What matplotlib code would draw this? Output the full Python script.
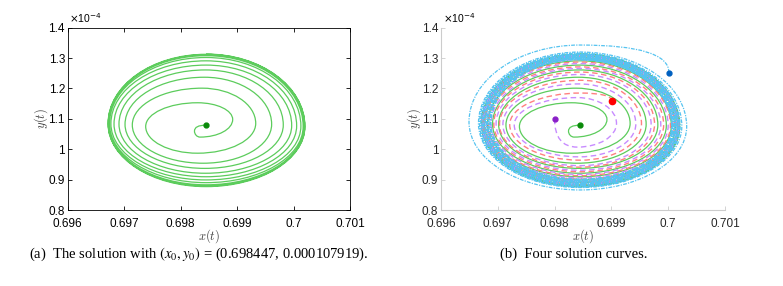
import numpy as np
import matplotlib
matplotlib.use('Agg')
import matplotlib.pyplot as plt
from matplotlib.path import Path
from matplotlib.patches import PathPatch
from matplotlib.ticker import FuncFormatter

# Turning points of each solution curve.
# x in data units, y in units of 1e-4.
# First entry = initial point, then the left/bottom/right/top extremes
# in the order the curve passes them (counter-clockwise, spiralling).
green_first = 'L'
green_x = [0.698447, 0.698245, 0.698345, 0.698922, 0.698300,
           0.697381, 0.698300, 0.699330, 0.698380,
           0.697144, 0.698400, 0.699612, 0.698420,
           0.697015, 0.698430, 0.699818, 0.698440,
           0.696908, 0.698440, 0.699967, 0.698450,
           0.696820, 0.698450, 0.700055, 0.698450,
           0.696765, 0.698450, 0.700130, 0.698450,
           0.696740, 0.698450, 0.700170, 0.698450,
           0.696725, 0.698450, 0.700190, 0.698450,
           0.696718, 0.698450, 0.700198, 0.698450,
           0.696714, 0.698450, 0.700202, 0.698450]
green_y = [1.07919, 1.060, 1.040, 1.098, 1.153,
           1.075, 0.987, 1.085, 1.201,
           1.080, 0.954, 1.082, 1.237,
           1.082, 0.937, 1.080, 1.261,
           1.083, 0.921, 1.078, 1.277,
           1.083, 0.9095, 1.077, 1.291,
           1.084, 0.899, 1.076, 1.302,
           1.084, 0.890, 1.075, 1.308,
           1.084, 0.883, 1.075, 1.311,
           1.084, 0.879, 1.075, 1.3125,
           1.084, 0.877, 1.075, 1.3134]

purple_first = 'B'
purple_x = [0.698000, 0.698400, 0.699090, 0.698400,
            0.697290, 0.698430, 0.699430, 0.698430,
            0.697090, 0.698440, 0.699700, 0.698440,
            0.696970, 0.698440, 0.699870, 0.698450,
            0.696880, 0.698450, 0.700000, 0.698450,
            0.696800, 0.698450, 0.700080, 0.698450,
            0.696750, 0.698450, 0.700140, 0.698450,
            0.696730, 0.698450, 0.700170, 0.698450,
            0.696722, 0.698450, 0.700190, 0.698450]
purple_y = [1.1005, 1.007, 1.085, 1.170,
            1.080, 0.975, 1.083, 1.215,
            1.082, 0.946, 1.081, 1.246,
            1.083, 0.931, 1.079, 1.266,
            1.083, 0.917, 1.078, 1.282,
            1.084, 0.906, 1.077, 1.295,
            1.084, 0.896, 1.076, 1.304,
            1.084, 0.888, 1.075, 1.309,
            1.084, 0.882, 1.075, 1.311]

red_first = 'T'
red_x = [0.699011, 0.698460,
         0.697210, 0.698450, 0.699530, 0.698460,
         0.697030, 0.698450, 0.699760, 0.698450,
         0.696930, 0.698450, 0.699920, 0.698450,
         0.696840, 0.698450, 0.700040, 0.698450,
         0.696770, 0.698450, 0.700110, 0.698450,
         0.696740, 0.698450, 0.700160, 0.698450,
         0.696720, 0.698450, 0.700180, 0.698450]
red_y = [1.1577, 1.185,
         1.081, 0.964, 1.084, 1.227,
         1.082, 0.941, 1.082, 1.254,
         1.083, 0.926, 1.080, 1.271,
         1.083, 0.913, 1.078, 1.287,
         1.084, 0.902, 1.077, 1.298,
         1.084, 0.893, 1.076, 1.306,
         1.084, 0.885, 1.075, 1.310]

blue_first = 'T'
blue_x = [0.700014, 0.698450,
          0.696493, 0.698450, 0.700326, 0.698450,
          0.696660, 0.698450, 0.700240, 0.698450,
          0.696680, 0.698450, 0.700210, 0.698450,
          0.696700, 0.698450, 0.700190, 0.698450,
          0.696720, 0.698450, 0.700170, 0.698450,
          0.696740, 0.698450, 0.700160, 0.698450,
          0.696760, 0.698450, 0.700140, 0.698450,
          0.696780, 0.698450, 0.700130, 0.698450,
          0.696800, 0.698450, 0.700110, 0.698450,
          0.696820, 0.698450, 0.700100, 0.698450,
          0.696840, 0.698450, 0.700080, 0.698450,
          0.696860, 0.698450, 0.700070, 0.698450,
          0.696880, 0.698450, 0.700060, 0.698450]
blue_y = [1.252, 1.343,
          1.090, 0.866, 1.075, 1.320,
          1.085, 0.874, 1.076, 1.316,
          1.085, 0.876, 1.076, 1.313,
          1.085, 0.879, 1.076, 1.311,
          1.085, 0.882, 1.076, 1.309,
          1.085, 0.884, 1.076, 1.307,
          1.085, 0.887, 1.076, 1.305,
          1.085, 0.889, 1.076, 1.303,
          1.085, 0.892, 1.076, 1.301,
          1.085, 0.894, 1.076, 1.299,
          1.085, 0.897, 1.076, 1.297,
          1.085, 0.899, 1.076, 1.295,
          1.085, 0.902, 1.076, 1.294]

x_ticks = [0.696, 0.697, 0.698, 0.699, 0.700, 0.701]
y_ticks = [0.8, 0.9, 1.0, 1.1, 1.2, 1.3, 1.4]

caption_a = '(a)  The solution with $(x_0, y_0)$ = (0.698447, 0.000107919).'
caption_b = '(b)  Four solution curves.'

K = 0.5523
ORDER = 'LBRT'


def spiral_path(xs, ys, first):
    i0 = ORDER.index(first)
    kinds = [ORDER[(i0 + i) % 4] for i in range(len(xs) - 1)]
    verts = [(xs[0], ys[0])]
    codes = [Path.MOVETO]
    # initial point -> first extreme
    if kinds[0] in 'LR':
        ctrl = (xs[1], ys[0])
    else:
        ctrl = (xs[0], ys[1])
    verts += [ctrl, (xs[1], ys[1])]
    codes += [Path.CURVE3, Path.CURVE3]
    for i in range(1, len(xs) - 1):
        x0, y0, x1, y1 = xs[i], ys[i], xs[i + 1], ys[i + 1]
        if kinds[i - 1] in 'LR':
            c1 = (x0, y0 + K * (y1 - y0))
            c2 = (x1 + K * (x0 - x1), y1)
        else:
            c1 = (x0 + K * (x1 - x0), y0)
            c2 = (x1, y1 + K * (y0 - y1))
        verts += [c1, c2, (x1, y1)]
        codes += [Path.CURVE4] * 3
    return Path(verts, codes)


def draw_curve(ax, xs, ys, first, color, ls, lw, dot, ms=3.5):
    ax.add_patch(PathPatch(spiral_path(xs, ys, first), fill=False,
                           edgecolor=color, linestyle=ls, lw=lw))
    ax.plot(xs[0], ys[0], 'o', color=dot, ms=ms, mec=dot, zorder=5)


plt.rcParams['font.family'] = ['Liberation Sans', 'DejaVu Sans']
plt.rcParams['mathtext.fontset'] = 'stix'

fig = plt.figure(figsize=(7.83, 2.86), dpi=100)
ax1 = fig.add_axes([0.0865, 0.2657, 0.3605, 0.6374])
ax2 = fig.add_axes([0.5632, 0.2657, 0.3627, 0.6374])

green = '#5ccc5c'
draw_curve(ax1, green_x, green_y, green_first, green, '-', 0.9, '#0a8a0a')

draw_curve(ax2, green_x, green_y, green_first, green, '-', 0.9, '#0a8a0a')
draw_curve(ax2, red_x, red_y, red_first, '#ff8080', (0, (4, 2.5)), 1.0, '#ff0000', 4.5)
draw_curve(ax2, purple_x, purple_y, purple_first, '#c88cff', (0, (4, 2.5)), 1.0, '#8a1fc8')
draw_curve(ax2, blue_x, blue_y, blue_first, '#55c3f0', (0, (3, 1, 1, 1)), 0.9, '#0060c0')

fmt = FuncFormatter(lambda v, p: '%g' % round(v, 4))
for ax in (ax1, ax2):
    ax.set_xlim(0.696, 0.701)
    ax.set_ylim(0.8, 1.4)
    ax.set_xticks(x_ticks)
    ax.set_yticks(y_ticks)
    ax.xaxis.set_major_formatter(fmt)
    ax.yaxis.set_major_formatter(fmt)

ax1.tick_params(direction='in', length=3, width=0.6, labelsize=8.5, pad=2,
                top=True, right=True, colors='black')
ax1.tick_params(axis='x', pad=6)
for s in ax1.spines.values():
    s.set_linewidth(0.6)

ax2.spines['top'].set_visible(False)
ax2.spines['right'].set_visible(False)
for s in ('left', 'bottom'):
    ax2.spines[s].set_color('#cccccc')
    ax2.spines[s].set_linewidth(0.8)
ax2.tick_params(direction='in', length=3, width=0.6, labelsize=8.5, pad=2,
                color='#cccccc', labelcolor='#262626')
ax2.tick_params(axis='x', pad=6)

for ax, xc in ((ax1, 0.2667), (ax2, 0.7445)):
    pos = ax.get_position()
    fig.text(xc, 0.176, '$x(t)$', ha='center', va='center', fontsize=9,
             color='#404040', math_fontfamily='cm')
    fig.text(pos.x0 - 0.034, pos.y0 + pos.height / 2, '$y(t)$', ha='center',
             va='center', rotation=90, fontsize=9, color='#404040',
             math_fontfamily='cm')
    fig.text(pos.x0 + 0.002, pos.y1 + 0.01, '$\\times$10$^{-4}$', ha='left',
             va='bottom', fontsize=7.5, math_fontfamily='dejavusans')

fig.text(0.2535, 0.112, caption_a, ha='center', va='center', fontsize=10.5,
         family='Liberation Serif')
fig.text(0.733, 0.112, caption_b, ha='center', va='center', fontsize=10.5,
         family='Liberation Serif')

fig.savefig('out.png', dpi=100)
